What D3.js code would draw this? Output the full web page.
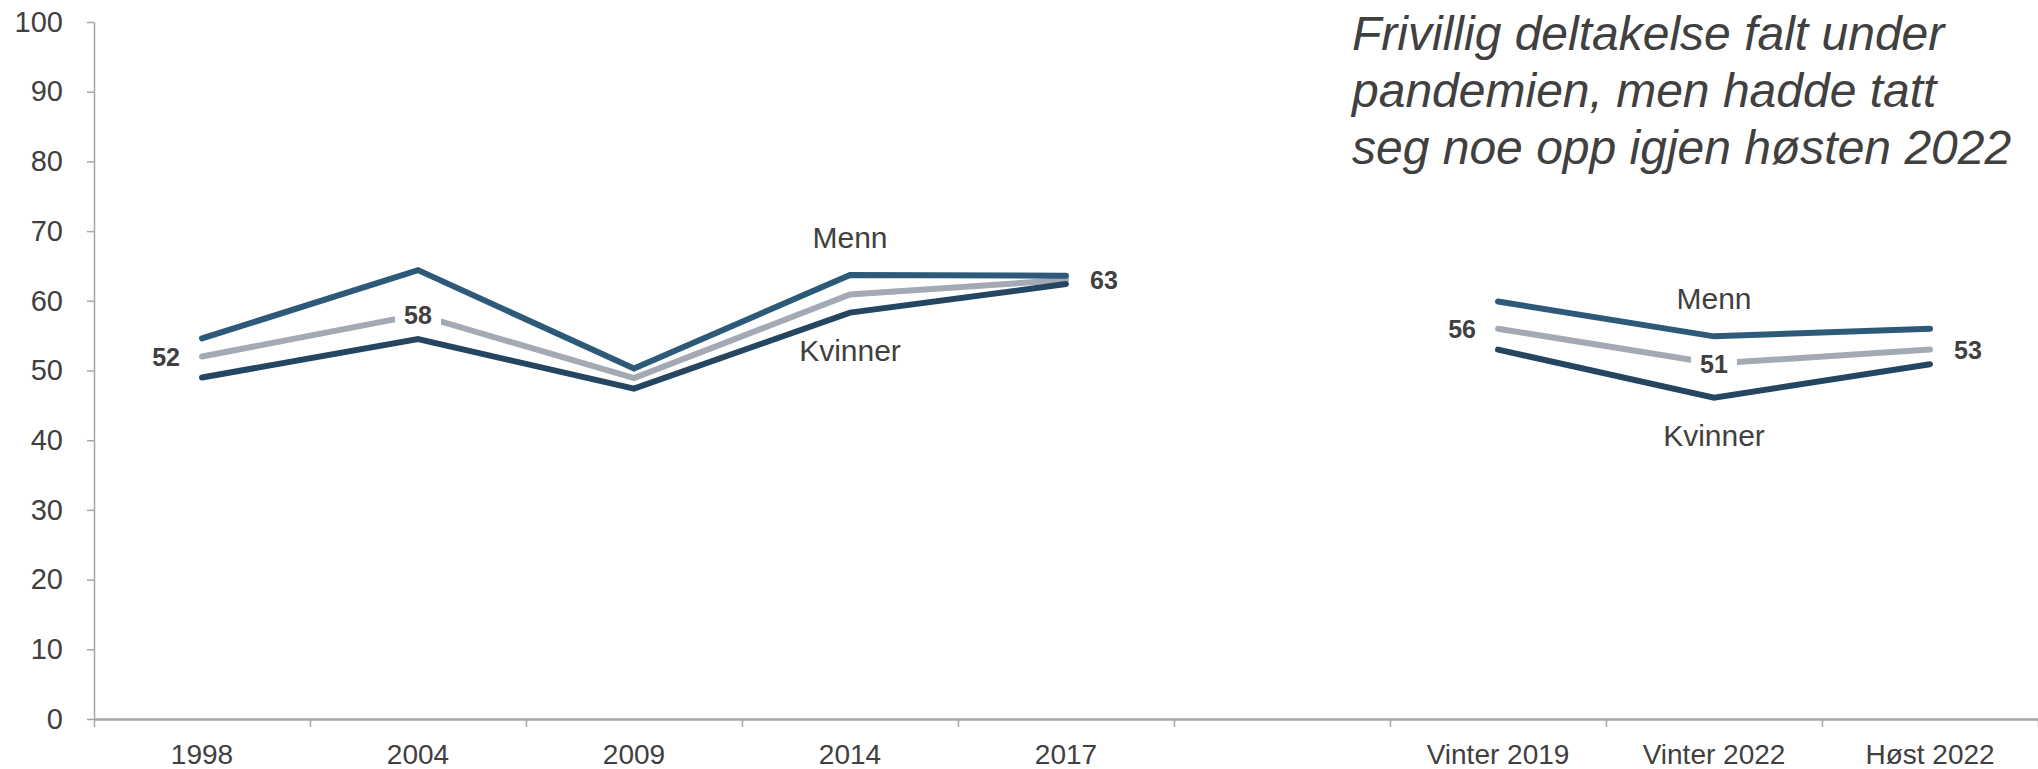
<!DOCTYPE html>
<html>
<head>
<meta charset="utf-8">
<script src="https://cdn.jsdelivr.net/npm/d3@7"></script>
<style>
  body { margin: 0; background: #fff; }
  svg { display: block; font-family: Arial, "Liberation Sans", sans-serif; }
</style>
</head>
<body>
<div id="chart"></div>
<script>
// categories (the empty one is the gap between the two survey series)
var categories = ["1998", "2004", "2009", "2014", "2017", "", "Vinter 2019", "Vinter 2022", "Høst 2022"];

var menn = [54.6, 64.4, 50.3, 63.7, 63.6, null, 59.9, 54.9, 56.0];
var alle = [52, 58, 48.9, 60.9, 63, null, 56, 51, 53];
var kvinner = [49.0, 54.5, 47.4, 58.3, 62.4, null, 53.0, 46.1, 50.9];

// where the value label of the total line goes
var labelSide = ["left", "center", null, null, "right", null, "left", "center", "right"];

var yTicks = [0, 10, 20, 30, 40, 50, 60, 70, 80, 90, 100];

var titleLines = [
  "Frivillig deltakelse falt under",
  "pandemien, men hadde tatt",
  "seg noe opp igjen høsten 2022",
];

var textColor = "#404040";
var axisColor = "#a6a6a6";
var colMenn = "#2e5a7a";
var colAlle = "#a3aab3";
var colKvinner = "#244661";

var width = 2038, height = 769;
var margin = { top: 22, right: 0, bottom: 50, left: 94 };

var svg = d3
  .select("#chart")
  .append("svg")
  .attr("width", width)
  .attr("height", height);

var x = d3
  .scaleBand()
  .domain(categories)
  .range([margin.left, width - margin.right]);

var xEdge = d3
  .scaleLinear()
  .domain([0, categories.length])
  .range([margin.left, width - margin.right]);

var y = d3
  .scaleLinear()
  .domain([0, 100])
  .range([height - margin.bottom, margin.top]);

var cx = function(i) {
  return x(categories[i]) + x.bandwidth() / 2;
};

// y axis
var yAxis = svg
  .append("g")
  .attr("transform", "translate(" + margin.left + ",0)")
  .call(
    d3
      .axisLeft(y)
      .tickValues(yTicks)
      .tickSize(7)
      .tickSizeOuter(0)
      .tickPadding(24)
  );
yAxis.select(".domain").attr("stroke", axisColor).attr("stroke-width", 1.5);
yAxis.selectAll(".tick line").attr("stroke", axisColor).attr("stroke-width", 1.5);
yAxis
  .selectAll(".tick text")
  .attr("fill", textColor)
  .style("font-size", "29px");

// x axis: boundary ticks
var xTicks = svg
  .append("g")
  .attr("transform", "translate(0," + y(0) + ")")
  .call(
    d3
      .axisBottom(xEdge)
      .tickValues(d3.range(categories.length + 1))
      .tickFormat("")
      .tickSize(8)
      .tickSizeOuter(0)
  );
xTicks.select(".domain").attr("stroke", axisColor).attr("stroke-width", 2.5);
xTicks.selectAll(".tick line").attr("stroke", axisColor).attr("stroke-width", 1.5);

// x axis: labels centred in bands
var xLabels = svg
  .append("g")
  .attr("transform", "translate(0," + y(0) + ")")
  .call(d3.axisBottom(x).tickSize(0).tickPadding(25));
xLabels.select(".domain").remove();
xLabels
  .selectAll(".tick text")
  .attr("fill", textColor)
  .style("font-size", "28px");

// lines
var line = d3
  .line()
  .defined(function(d) {
    return d != null;
  })
  .x(function(d, i) {
    return cx(i);
  })
  .y(function(d) {
    return y(d);
  });

var series = [
  { key: "alle", values: alle, color: colAlle },
  { key: "kvinner", values: kvinner, color: colKvinner },
  { key: "menn", values: menn, color: colMenn },
];

svg
  .append("g")
  .selectAll("path")
  .data(series)
  .join("path")
  .attr("fill", "none")
  .attr("stroke", function(d) {
    return d.color;
  })
  .attr("stroke-width", 6)
  .attr("stroke-linecap", "round")
  .attr("stroke-linejoin", "miter")
  .attr("d", function(d) {
    return line(d.values);
  });

// value labels for the total line
var labels = svg.append("g");
alle.forEach(function(v, i) {
  var side = labelSide[i];
  if (!side || v == null) return;
  var px = cx(i);
  var py = y(v);
  if (side === "center") {
    labels
      .append("rect")
      .attr("x", px - 23)
      .attr("y", py - 14)
      .attr("width", 46)
      .attr("height", 28)
      .attr("fill", "#fff");
  }
  labels
    .append("text")
    .attr("x", side === "left" ? px - 22 : side === "right" ? px + 24 : px)
    .attr("y", py)
    .attr("dy", "0.36em")
    .attr("text-anchor", side === "left" ? "end" : side === "right" ? "start" : "middle")
    .attr("fill", textColor)
    .style("font-size", "25px")
    .style("font-weight", "bold")
    .text(d3.format("d")(v));
});

// series names (Menn / Kvinner) at 2014 and Vinter 2022
[3, 7].forEach(function(i) {
  labels
    .append("text")
    .attr("x", cx(i))
    .attr("y", y(menn[i]) - 27)
    .attr("text-anchor", "middle")
    .attr("fill", textColor)
    .style("font-size", "30px")
    .text("Menn");
  labels
    .append("text")
    .attr("x", cx(i))
    .attr("y", y(kvinner[i]) + 48)
    .attr("text-anchor", "middle")
    .attr("fill", textColor)
    .style("font-size", "30px")
    .text("Kvinner");
});

// title
svg
  .append("g")
  .selectAll("text")
  .data(titleLines)
  .join("text")
  .attr("x", 1352)
  .attr("y", function(d, i) {
    return 50 + i * 57;
  })
  .attr("fill", textColor)
  .style("font-size", "48px")
  .style("font-style", "italic")
  .text(function(d) {
    return d;
  });
</script>
</body>
</html>
